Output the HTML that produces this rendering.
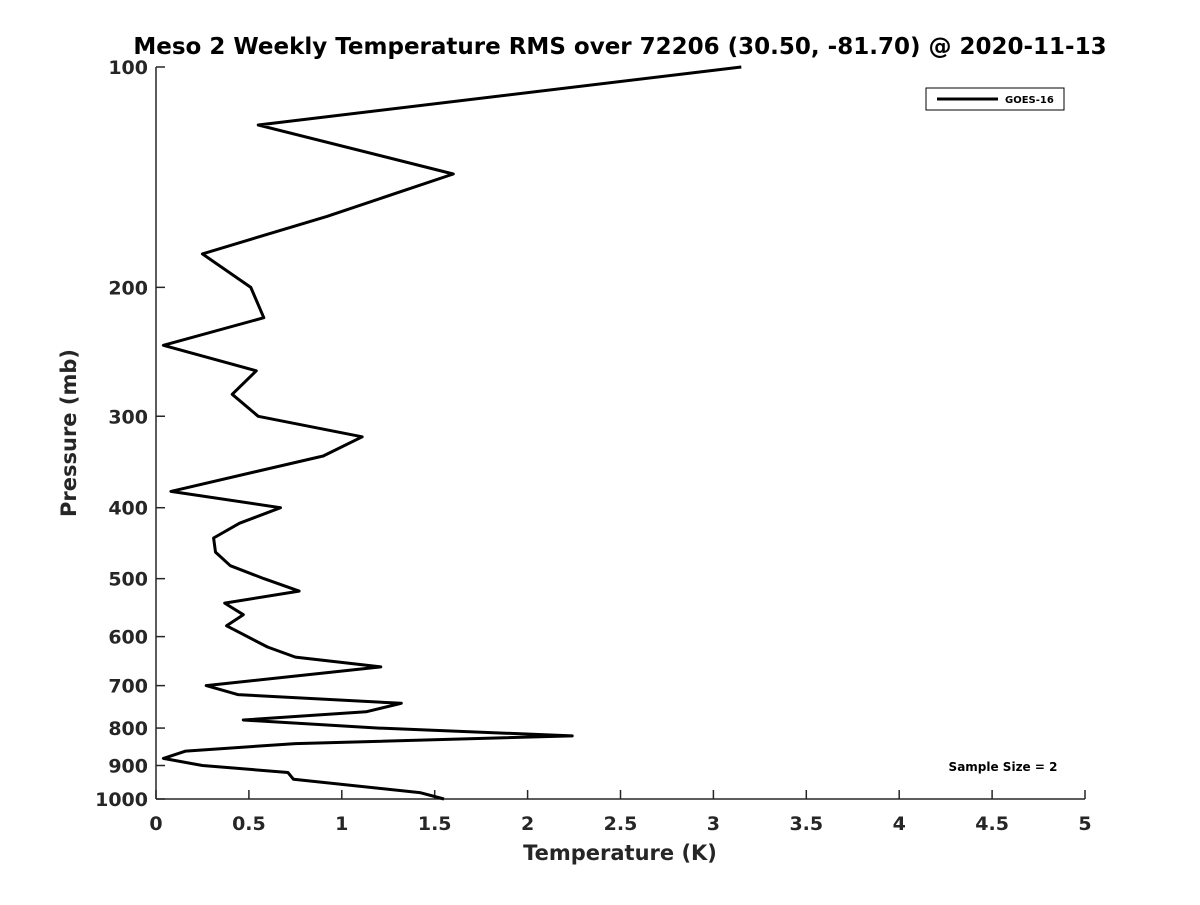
<!DOCTYPE html>
<html><head><meta charset="utf-8"><style>
body{margin:0;background:#fff;}
svg text{font-family:"DejaVu Sans","Liberation Sans",sans-serif;font-weight:bold;fill:#262626;}
</style></head><body>
<svg id="chart" width="1200" height="900" xmlns="http://www.w3.org/2000/svg">
<rect width="1200" height="900" fill="#fff"/>
<text x="620" y="54" font-size="23" text-anchor="middle" fill="#000" style="fill:#000">Meso 2 Weekly Temperature RMS over 72206 (30.50, -81.70) @ 2020-11-13</text>
<g id="axes"></g>
<path id="series" fill="none" stroke="#000" stroke-width="3" stroke-linejoin="round"/>
<g>
<rect x="926" y="88" width="138" height="22" fill="#fff" stroke="#000" stroke-width="1"/>
<line x1="937" y1="99" x2="998" y2="99" stroke="#000" stroke-width="3"/>
<text x="1005" y="103" font-size="10" style="fill:#000">GOES-16</text>
</g>
<text x="1003" y="771" font-size="12" text-anchor="middle" style="fill:#000">Sample Size = 2</text>
<text x="620" y="860" font-size="21" text-anchor="middle">Temperature (K)</text>
<text transform="translate(76,433) rotate(-90)" font-size="21" text-anchor="middle">Pressure (mb)</text>
</svg>
<script>
const pressures=[100,120,140,160,180,200,220,240,260,280,300,320,340,380,400,420,440,460,480,500,520,540,560,580,620,640,660,700,720,740,760,780,800,820,840,860,880,900,920,940,980,1000];
const temps=[3.15,0.55,1.60,0.92,0.25,0.51,0.58,0.04,0.54,0.41,0.55,1.11,0.90,0.08,0.67,0.45,0.31,0.32,0.40,0.58,0.77,0.37,0.47,0.38,0.60,0.75,1.21,0.27,0.44,1.32,1.13,0.47,1.20,2.24,0.75,0.16,0.04,0.25,0.71,0.74,1.42,1.55];
const xTicks=[0,0.5,1,1.5,2,2.5,3,3.5,4,4.5,5];
const xTickLabels=["0","0.5","1","1.5","2","2.5","3","3.5","4","4.5","5"];
const yTicks=[100,200,300,400,500,600,700,800,900,1000];
const X0=156,X1=1085,Y0=67,Y1=799;
function xs(v){return X0+(v-0)/(5-0)*(X1-X0);}
function ys(p){return Y0+Math.log10(p/100)*(Y1-Y0);}
const NS="http://www.w3.org/2000/svg";
const ax=document.getElementById('axes');
function mk(t,a){const e=document.createElementNS(NS,t);for(const k in a)e.setAttribute(k,a[k]);return e;}
let l=mk('line',{x1:X0,y1:Y0,x2:X0,y2:Y1,stroke:'#262626','stroke-width':1.5});


ax.appendChild(l);
l=mk('line',{x1:X0,y1:Y1,x2:X1,y2:Y1,stroke:'#262626','stroke-width':1.5});


ax.appendChild(l);
xTicks.forEach((v,i)=>{
 const x=xs(v);
 const t=mk('line',{x1:x,y1:Y1,x2:x,y2:Y1-9,stroke:'#262626','stroke-width':1.5});
 
 
 ax.appendChild(t);
 const tx=mk('text',{x:x,y:Y1+31,'font-size':19,'text-anchor':'middle'});
 tx.textContent=xTickLabels[i];
 
 
 ax.appendChild(tx);
});
yTicks.forEach(p=>{
 const y=ys(p);
 const t=mk('line',{x1:X0,y1:y,x2:X0+9,y2:y,stroke:'#262626','stroke-width':1.5});
 
 
 ax.appendChild(t);
 const tx=mk('text',{x:X0-8,y:y+7,'font-size':19,'text-anchor':'end'});
 tx.textContent=String(p);
 
 
 ax.appendChild(tx);
});
document.getElementById('series').setAttribute('d',pressures.map((p,i)=>(i?'L':'M')+xs(temps[i]).toFixed(1)+','+ys(p).toFixed(1)).join(' '));
</script>
</body></html>
